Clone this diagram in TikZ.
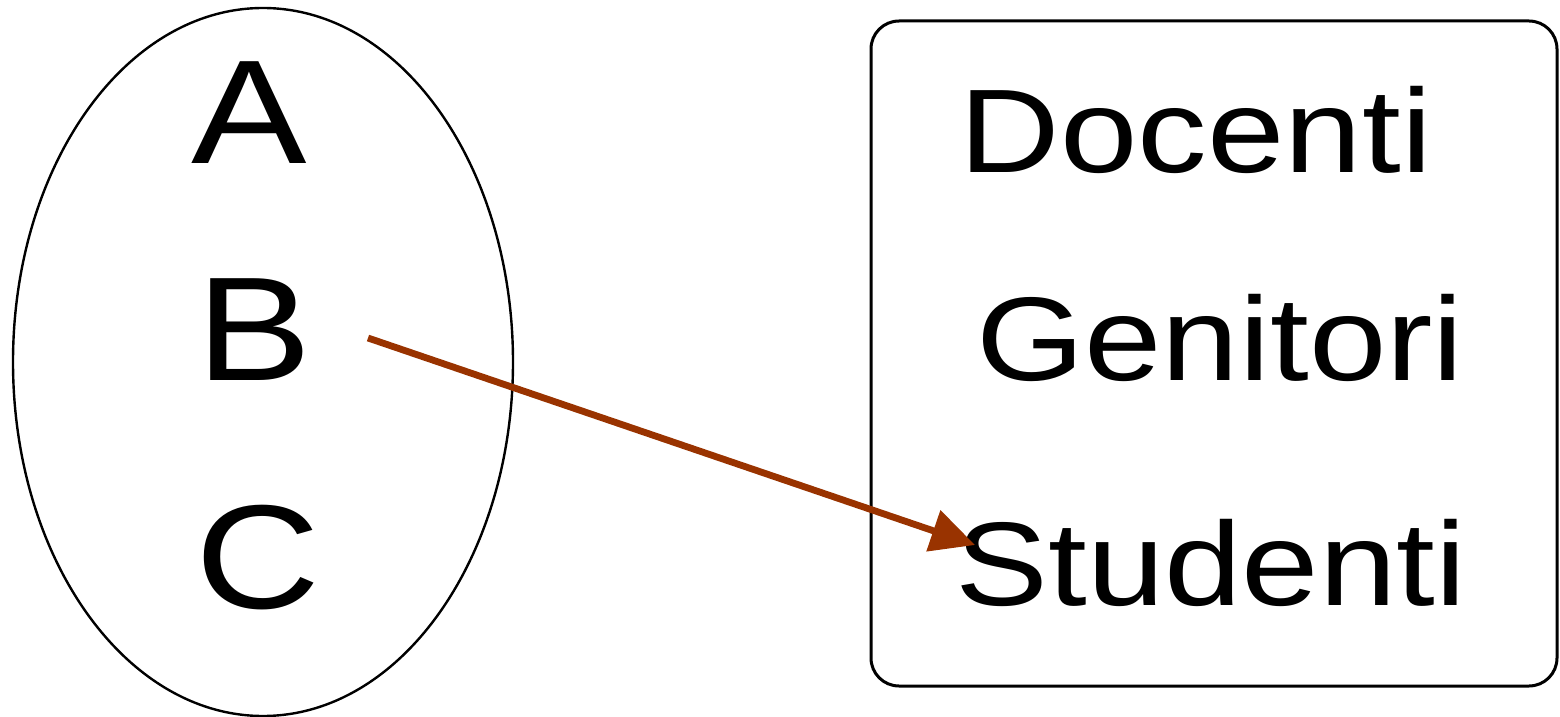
\documentclass[tikz,border=0pt]{standalone}
\usepackage{fontspec}
\usepackage{graphicx}
\setmainfont{Liberation Sans}
\usetikzlibrary{arrows.meta}
\definecolor{arrowbrown}{RGB}{153,51,0}
\newcommand{\wide}[1]{\scalebox{1.17}[1]{#1}}
\begin{document}
\begin{tikzpicture}[
  x=0.5pt, y=-0.5pt,
  letter/.style={
    anchor=base,
    inner sep=0pt,
    font=\fontsize{74}{80}\selectfont
  },
  role/.style={
    anchor=base,
    inner sep=0pt,
    font=\fontsize{59.5}{66}\selectfont
  },
  arrow/.style={-{Triangle[length=22pt,width=21pt]}, line width=3.4pt, arrowbrown}
]
\useasboundingbox (0,0) rectangle (1560,717);

\draw[line width=1.2pt] (263,362) ellipse [x radius=250, y radius=354];
\draw[line width=1.5pt, rounded corners=14pt] (871,21) rectangle (1557,686);

\node[letter] (a) at (249,164) {\wide{A}};
\node[letter] (b) at (254,380) {\wide{B}};
\node[letter] (c) at (258,608) {\wide{C}};

\node[role] (docenti) at (1196,173) {\wide{Docenti}};
\node[role] (genitori) at (1220,380) {\wide{Genitori}};
\node[role] (studenti) at (1211,605) {\wide{Studenti}};

\coordinate (from) at (368,338);
\coordinate (to) at (975,545);
\draw[arrow] (from) -- (to);
\end{tikzpicture}
\end{document}
